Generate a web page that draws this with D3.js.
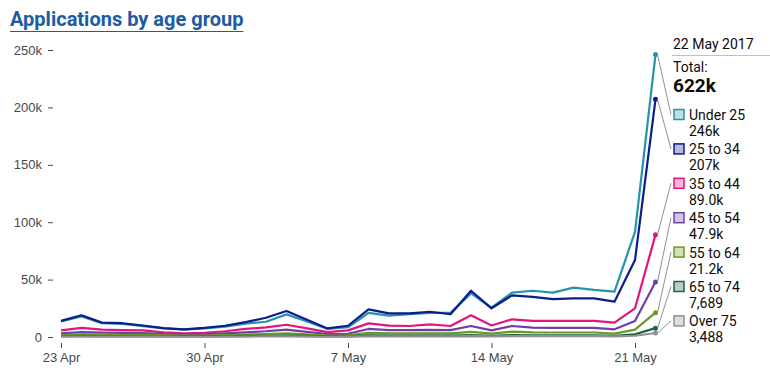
<!DOCTYPE html>
<html lang="en">
<head>
<meta charset="utf-8">
<title>Applications by age group</title>
<script src="https://cdn.jsdelivr.net/npm/d3@7"></script>
<style>
  body { margin: 0; background: #fff; font-family: Roboto, "Noto Sans", sans-serif; }
  .title { font-weight: bold; font-size: 20px; fill: #1d5ba4; }
  .axis text { font-size: 13px; fill: #454a4c; }
  .axis line { stroke: #454a4c; }
  .axis path { display: none; }
  .legend text { font-size: 14px; fill: #0b0c0c; }
</style>
</head>
<body>
<script>
// data, thousands of applications per day
var startDate = "2017-04-23";
var dayCount = 30;
var seriesNames = ["Under 25", "25 to 34", "35 to 44", "45 to 54", "55 to 64", "65 to 74", "Over 75"];
var seriesColors = ["#2694a8", "#0b1d8c", "#e5137e", "#6f3fa8", "#6a9a1f", "#1f6141", "#8e9294"];
var under25 = [13.5, 18, 12, 11.5, 9.5, 7.5, 6.5, 7.5, 9, 11.6, 13.3, 19.7, 13.5, 7, 8.5, 21, 18.6, 20, 21, 21, 38, 25.5, 38.6, 40.3, 38.6, 43, 41, 39.5, 91.5, 246];
var age25to34 = [14, 19, 12.5, 12, 10, 7.8, 6.7, 8, 9.8, 13, 16.8, 22.6, 15, 7.5, 9.8, 24, 20.6, 20.6, 22, 19.8, 40.3, 25, 36.3, 35, 33, 33.7, 33.7, 30.8, 67, 207];
var age35to44 = [5.8, 8, 6.4, 6, 5.8, 4, 3.2, 3.7, 5, 7, 8.4, 10.7, 7.5, 4.3, 5.8, 11.9, 9.9, 9.6, 11, 9.6, 19, 10, 15.4, 14, 14, 14, 14, 12.5, 25, 89.0];
var age45to54 = [3.2, 4.3, 3.8, 3.6, 3.3, 2.6, 2.3, 2.5, 3.2, 4, 5, 6.4, 4.5, 2.6, 2.8, 7, 6, 6, 6.2, 6, 9.6, 5.8, 9.6, 8.2, 8, 8, 8, 6.7, 14, 47.9];
var age55to64 = [1.6, 2.2, 2, 1.9, 1.8, 1.4, 1.2, 1.3, 1.7, 2.1, 2.6, 3.2, 2.3, 1.3, 1.5, 3.6, 3.1, 3.1, 3.2, 3.1, 4.5, 2.9, 4.6, 4.0, 3.9, 3.9, 3.9, 3.0, 6.4, 21.2];
var age65to74 = [0.7, 0.9, 0.8, 0.8, 0.7, 0.6, 0.5, 0.5, 0.7, 0.9, 1.0, 1.3, 0.9, 0.5, 0.6, 1.4, 1.2, 1.2, 1.3, 1.2, 1.7, 1.1, 1.7, 1.5, 1.5, 1.5, 1.5, 1.1, 2.4, 7.689];
var over75 = [0.3, 0.4, 0.4, 0.4, 0.3, 0.3, 0.2, 0.2, 0.3, 0.4, 0.5, 0.6, 0.4, 0.2, 0.3, 0.6, 0.5, 0.5, 0.6, 0.5, 0.8, 0.5, 0.8, 0.7, 0.7, 0.7, 0.7, 0.5, 1.1, 3.488];
var yTicks = [0, 50, 100, 150, 200, 250];
var xTickLabels = ["23 Apr", "30 Apr", "7 May", "14 May", "21 May"];

var w = 770, h = 384;
var allValues = [under25, age25to34, age35to44, age45to54, age55to64, age65to74, over75];
var parse = d3.timeParse("%Y-%m-%d");
var start = parse(startDate);
var dates = d3.range(dayCount).map(function(i) { return d3.timeDay.offset(start, i); });

var series = seriesNames.map(function(name, i) {
  return { name: name, color: seriesColors[i], values: allValues[i] };
});

var x = d3.scaleTime().domain([dates[0], dates[dates.length - 1]]).range([61, 655.5]);
var y = d3.scaleLinear().domain([0, 250]).range([337, 50]);

var svg = d3.select("body").append("svg").attr("width", w).attr("height", h);

// title with underline
var title = svg.append("text").attr("class", "title").attr("x", 10).attr("y", 26)
  .text("Applications by age group");
svg.append("line").attr("x1", 10).attr("x2", 10 + title.node().getComputedTextLength())
  .attr("y1", 31.5).attr("y2", 31.5).attr("stroke", "#1d5ba4").attr("stroke-width", 1.2);

// y axis
svg.append("g").attr("class", "axis").attr("transform", "translate(53,0)")
  .call(d3.axisLeft(y).tickValues(yTicks).tickSize(5).tickPadding(6)
    .tickFormat(function(d) { return d === 0 ? "0" : d + "k"; }));

// x axis
var tickDates = [0, 7, 14, 21, 28].map(function(i) { return dates[i]; });
svg.append("g").attr("class", "axis").attr("transform", "translate(0,343)")
  .call(d3.axisBottom(x).tickValues(tickDates).tickSize(5).tickPadding(5)
    .tickFormat(function(d, i) { return xTickLabels[i]; }));
svg.selectAll(".axis text").style("font-size", "13px");

var line = d3.line()
  .x(function(d, i) { return x(dates[i]); })
  .y(function(d) { return y(d); });

svg.selectAll(".series")
  .data(series)
  .enter()
  .append("path")
  .attr("class", "series")
  .attr("d", function(d) { return line(d.values); })
  .attr("fill", "none")
  .attr("stroke", function(d) { return d.color; })
  .attr("stroke-width", 2.2)
  .attr("stroke-linejoin", "round");

// end points
var last = dayCount - 1;
svg.selectAll(".endpt")
  .data(series)
  .enter()
  .append("circle")
  .attr("cx", x(dates[last]))
  .attr("cy", function(d) { return y(d.values[last]); })
  .attr("r", 2.5)
  .attr("fill", function(d) { return d.color; });

// legend / tooltip panel
var lx = 673;
var panel = svg.append("g").attr("class", "legend");
panel.append("text").attr("x", lx).attr("y", 49).text("22 May 2017");
panel.append("line").attr("x1", lx - 1).attr("x2", w).attr("y1", 55.5).attr("y2", 55.5)
  .attr("stroke", "#bfc1c3");
panel.append("text").attr("x", lx).attr("y", 72).text("Total:");
var total = d3.sum(series, function(d) { return d.values[last]; });
panel.append("text").attr("x", lx).attr("y", 92).style("font-weight", "bold").style("font-size", "19px")
  .text(d3.format(".3s")(total * 1000));

var fmt = function(v) {
  var n = v * 1000;
  if (n < 10000) return d3.format(",")(Math.round(n));
  return d3.format(".3s")(n);
};

var entry = panel.selectAll(".entry")
  .data(series)
  .enter()
  .append("g")
  .attr("class", "entry")
  .attr("transform", function(d, i) { return "translate(" + lx + "," + (109 + i * 34.4) + ")"; });

entry.append("rect").attr("x", 1).attr("y", 0.5).attr("width", 10).attr("height", 10)
  .attr("fill", function(d) { return d3.color(d.color).copy({ opacity: 0.3 }); })
  .attr("stroke", function(d) { return d.color; }).attr("stroke-width", 1.5);
entry.append("text").attr("x", 16).attr("y", 11).text(function(d) { return d.name; });
entry.append("text").attr("x", 16).attr("y", 27).text(function(d) { return fmt(d.values[last]); });

// connectors from end points to swatches
svg.selectAll(".conn")
  .data(series)
  .enter()
  .append("line")
  .attr("x1", x(dates[last]) + 2)
  .attr("y1", function(d) { return y(d.values[last]); })
  .attr("x2", lx - 2)
  .attr("y2", function(d, i) { return 109 + i * 34.4 + 5.5; })
  .attr("stroke", "#8e9294")
  .attr("stroke-width", 1);
</script>
</body>
</html>
